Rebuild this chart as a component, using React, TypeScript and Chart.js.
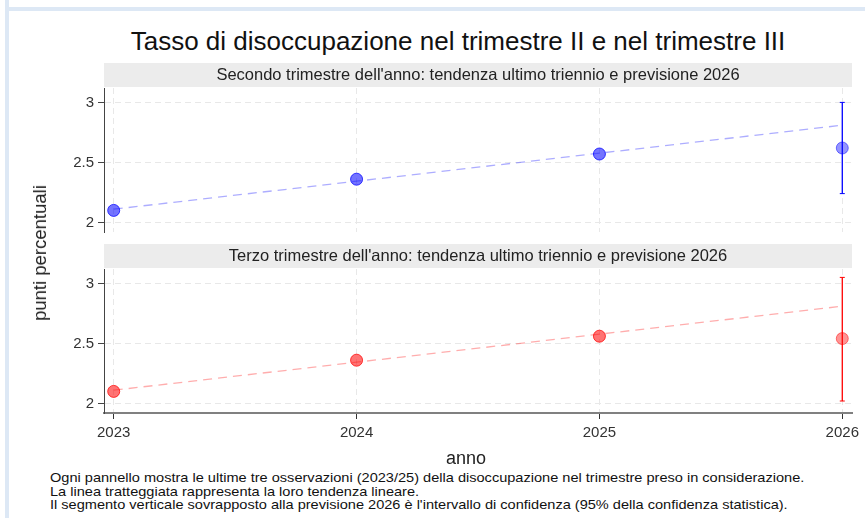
import React, { useEffect, useRef } from "react";
import { Chart, registerables } from "chart.js";

Chart.register(...registerables);

// ---------- data ----------
const observedYears = [2023, 2024, 2025];
const forecastYear = 2026;
const xTickValues = [2023, 2024, 2025, 2026];
const yTickValues = [2, 2.5, 3];

const q2Values = [2.1, 2.36, 2.57];
const q2Forecast = 2.62;
const q2Interval = [2.24, 3.0];
const q2TrendEnds = [2.11, 2.81];

const q3Values = [2.1, 2.36, 2.56];
const q3Forecast = 2.54;
const q3Interval = [2.02, 3.05];
const q3TrendEnds = [2.11, 2.81];

const trendYears = [2023, 2026];

const chartTitle = "Tasso di disoccupazione nel trimestre II e nel trimestre III";
const q2Title = "Secondo trimestre dell'anno: tendenza ultimo triennio e previsione 2026";
const q3Title = "Terzo trimestre dell'anno: tendenza ultimo triennio e previsione 2026";
const yTitle = "punti percentuali";
const xTitle = "anno";
const notes = [
  "Ogni pannello mostra le ultime tre osservazioni (2023/25) della disoccupazione nel trimestre preso in considerazione.",
  "La linea tratteggiata rappresenta la loro tendenza lineare.",
  "Il segmento verticale sovrapposto alla previsione 2026 è l'intervallo di confidenza (95% della confidenza statistica).",
];

const FONT = "'Liberation Sans', Arial, sans-serif";

const stripPlugin = {
  id: "strip",
  beforeDraw(chart: any, _args: any, opts: any) {
    const { ctx, chartArea } = chart;
    const h = 24;
    ctx.save();
    ctx.fillStyle = "#ececec";
    ctx.fillRect(chartArea.left, chartArea.top - h - 1, chartArea.right - chartArea.left, h);
    ctx.fillStyle = "#222";
    ctx.font = `16.5px ${FONT}`;
    ctx.textAlign = "center";
    ctx.textBaseline = "middle";
    ctx.fillText(opts.text, (chartArea.left + chartArea.right) / 2, chartArea.top - h / 2 - 1);
    ctx.restore();
  },
};

type PanelProps = {
  values: number[];
  forecast: number;
  interval: number[];
  trend: number[];
  rgb: string;
  title: string;
  showX: boolean;
  top: number;
  height: number;
};

function Panel({ values, forecast, interval, trend, rgb, title, showX, top, height }: PanelProps) {
  const ref = useRef<HTMLCanvasElement>(null);
  useEffect(() => {
    if (!ref.current) return;
    const chart = new Chart(ref.current, {
      type: "scatter",
      plugins: [stripPlugin],
      data: {
        datasets: [
          {
            data: observedYears.map((x, i) => ({ x, y: values[i] })),
            backgroundColor: `rgba(${rgb},0.55)`,
            borderColor: `rgba(${rgb},0.75)`,
            borderWidth: 1,
            pointRadius: 6,
            order: 1,
          },
          {
            data: [{ x: forecastYear, y: forecast }],
            backgroundColor: `rgba(${rgb},0.42)`,
            borderColor: `rgba(${rgb},0.5)`,
            borderWidth: 1,
            pointRadius: 6,
            order: 1,
          },
          {
            data: trendYears.map((x, i) => ({ x, y: trend[i] })),
            showLine: true,
            borderColor: `rgba(${rgb},0.32)`,
            borderWidth: 1.3,
            borderDash: [9, 6],
            pointRadius: 0,
            order: 3,
          },
          {
            data: [
              { x: forecastYear, y: interval[0] },
              { x: forecastYear, y: interval[1] },
            ],
            showLine: true,
            borderColor: `rgb(${rgb})`,
            borderWidth: 1.3,
            pointStyle: "line",
            pointRadius: 2.5,
            pointBorderWidth: 1,
            pointBorderColor: `rgb(${rgb})`,
            order: 2,
          },
        ],
      },
      options: {
        responsive: false,
        animation: false,
        events: [],
        layout: { padding: { top: 26, left: 60, right: 13, bottom: showX ? 0 : 2 } },
        plugins: {
          legend: { display: false },
          tooltip: { enabled: false },
          strip: { text: title },
        } as any,
        scales: {
          x: {
            type: "linear",
            min: 2022.96,
            max: 2026.04,
            afterBuildTicks: (s: any) => {
              s.ticks = xTickValues.map((v) => ({ value: v }));
            },
            afterFit: (s: any) => {
              s.height = showX ? 40 : 0;
              s.paddingLeft = 0;
              s.paddingRight = 0;
            },
            ticks: {
              display: showX,
              color: "#333",
              font: { family: FONT, size: 15 },
              padding: 5,
              maxRotation: 0,
              callback: (v: any) => String(v),
            },
            grid: {
              color: "#e8e8e8",
              lineWidth: 1,
              drawTicks: showX,
              tickLength: 6,
              tickColor: "#333",
              tickWidth: 1,
            },
            border: { display: showX, color: "#808080", width: 2, dash: [6, 4] },
          },
          y: {
            type: "linear",
            min: 1.92,
            max: 3.12,
            afterBuildTicks: (s: any) => {
              s.ticks = yTickValues.map((v) => ({ value: v }));
            },
            afterFit: (s: any) => {
              s.width = 44;
              s.paddingTop = 0;
              s.paddingBottom = 0;
            },
            ticks: {
              color: "#333",
              font: { family: FONT, size: 15 },
              padding: 4,
              callback: (v: any) => String(v),
            },
            grid: {
              color: "#e8e8e8",
              lineWidth: 1,
              tickLength: 6,
              tickColor: "#444",
              tickWidth: 1,
            },
            border: { display: true, color: "#444", width: 1, dash: [6, 4] },
          },
        },
      } as any,
    });
    return () => chart.destroy();
  }, []);
  return (
    <canvas
      ref={ref}
      width={865}
      height={height}
      style={{ position: "absolute", left: 0, top, width: 865, height }}
    />
  );
}

export default function App() {
  return (
    <div
      style={{
        position: "fixed",
        left: 0,
        top: 0,
        width: 865,
        height: 518,
        background: "#fff",
        overflow: "hidden",
        fontFamily: FONT,
        color: "#111",
      }}
    >
      <div style={{ position: "absolute", left: 5, top: 0, width: 4, height: 518, background: "#dde8f5" }} />
      <div style={{ position: "absolute", left: 5, top: 7, width: 860, height: 4, background: "#dde8f5" }} />
      <div
        style={{
          position: "absolute",
          left: 58,
          top: 26,
          width: 800,
          textAlign: "center",
          fontSize: 26,
          lineHeight: "30px",
          whiteSpace: "nowrap",
        }}
      >
        {chartTitle}
      </div>
      <Panel
        values={q2Values}
        forecast={q2Forecast}
        interval={q2Interval}
        trend={q2TrendEnds}
        rgb="0,0,255"
        title={q2Title}
        showX={false}
        top={62}
        height={177}
      />
      <Panel
        values={q3Values}
        forecast={q3Forecast}
        interval={q3Interval}
        trend={q3TrendEnds}
        rgb="255,0,0"
        title={q3Title}
        showX={true}
        top={243}
        height={210}
      />
      <div
        style={{
          position: "absolute",
          left: 40,
          top: 253,
          transform: "translate(-50%, -50%) rotate(-90deg)",
          fontSize: 18.5,
          whiteSpace: "nowrap",
          color: "#222",
        }}
      >
        {yTitle}
      </div>
      <div
        style={{
          position: "absolute",
          left: 366,
          top: 447,
          width: 200,
          textAlign: "center",
          fontSize: 18,
          lineHeight: "22px",
          color: "#222",
        }}
      >
        {xTitle}
      </div>
      <div
        style={{
          position: "absolute",
          left: 50,
          top: 471,
          fontSize: 13,
          lineHeight: "13.5px",
          whiteSpace: "nowrap",
          color: "#111",
          transform: "scaleX(1.12)",
          transformOrigin: "left top",
        }}
      >
        {notes.map((n, i) => (
          <div key={i}>{n}</div>
        ))}
      </div>
    </div>
  );
}
